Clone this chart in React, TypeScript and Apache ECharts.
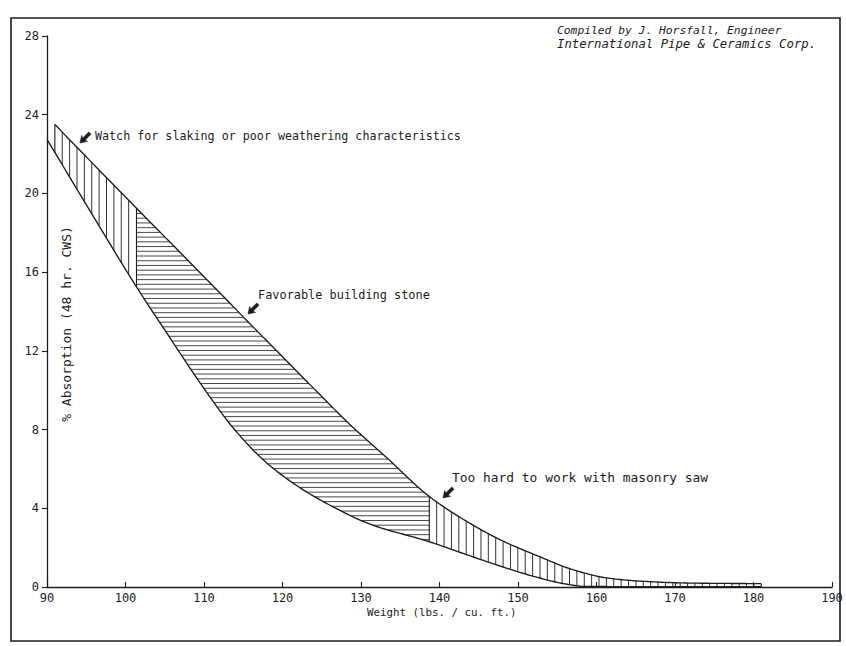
import React, { useEffect, useRef } from "react";
import * as echarts from "echarts";

// Upper boundary of the band (weight lbs/cu.ft, % absorption)
const upperX = [91, 96, 101.4, 105.6, 109.8, 115.8, 120.5, 124.7, 129, 133.2, 138.7, 143.6, 148, 152.7, 157, 161.3, 165.5, 171.8, 181];
const upperY = [23.5, 21.45, 19.25, 17.55, 15.85, 13.4, 11.5, 9.8, 8.1, 6.6, 4.6, 3.3, 2.35, 1.55, 0.88, 0.46, 0.3, 0.2, 0.17];
// Lower boundary of the band
const lowerX = [90, 95.5, 101.4, 105.6, 109.8, 114.1, 118.3, 122.6, 126.8, 131.1, 138.7, 143.4, 147.6, 151.9, 156.1, 158.5, 165, 181];
const lowerY = [22.75, 19.1, 15.25, 12.7, 10.2, 7.9, 6.2, 4.95, 4.0, 3.2, 2.3, 1.65, 1.08, 0.55, 0.15, 0.03, 0.02, 0.02];
// Zone limits along the weight axis: slaking | favorable | too hard
const zoneBreaks = [91, 101.4, 138.7, 181];

const INK = "#1c1c1c";
const FONT = '"DejaVu Sans Mono", monospace';

// monotone cubic (Fritsch-Carlson) curve through the read points
function makeCurve(xs: number[], ys: number[]) {
  const n = xs.length;
  const d: number[] = [];
  for (let i = 0; i < n - 1; i++) d.push((ys[i + 1] - ys[i]) / (xs[i + 1] - xs[i]));
  const m: number[] = new Array(n);
  m[0] = d[0];
  m[n - 1] = d[n - 2];
  for (let i = 1; i < n - 1; i++) {
    if (d[i - 1] * d[i] <= 0) m[i] = 0;
    else {
      const w1 = 2 * (xs[i + 1] - xs[i]) + (xs[i] - xs[i - 1]);
      const w2 = (xs[i + 1] - xs[i]) + 2 * (xs[i] - xs[i - 1]);
      m[i] = (w1 + w2) / (w1 / d[i - 1] + w2 / d[i]);
    }
  }
  return (x: number): number => {
    if (x <= xs[0]) return ys[0];
    if (x >= xs[n - 1]) return ys[n - 1];
    let i = 0;
    while (i < n - 2 && x > xs[i + 1]) i++;
    const h = xs[i + 1] - xs[i];
    const t = (x - xs[i]) / h;
    const t2 = t * t;
    const t3 = t2 * t;
    return (
      (2 * t3 - 3 * t2 + 1) * ys[i] +
      (t3 - 2 * t2 + t) * h * m[i] +
      (-2 * t3 + 3 * t2) * ys[i + 1] +
      (t3 - t2) * h * m[i + 1]
    );
  };
}

// x where a decreasing curve reaches y (bisection)
function solveX(f: (x: number) => number, y: number, a: number, b: number): number {
  if (f(a) <= y) return a;
  if (f(b) >= y) return b;
  let lo = a;
  let hi = b;
  for (let k = 0; k < 40; k++) {
    const mid = (lo + hi) / 2;
    if (f(mid) > y) lo = mid;
    else hi = mid;
  }
  return (lo + hi) / 2;
}

function arrow(tx: number, ty: number) {
  const pts: number[][] = [
    [0, 0], [6.5, -4.2], [5.5, -1.6], [14, -1.6], [14, 1.6], [5.5, 1.6], [6.5, 4.2],
  ];
  const c = Math.SQRT1_2;
  return {
    type: "polygon",
    silent: true,
    shape: { points: pts.map(([a, b]) => [tx + a * c + b * c, ty - a * c + b * c]) },
    style: { fill: INK, stroke: INK, lineWidth: 0.6 },
  };
}

function label(text: string, x: number, y: number, size: number, italic = false) {
  return {
    type: "text",
    silent: true,
    x,
    y,
    style: {
      text,
      fill: INK,
      fontSize: size,
      fontFamily: FONT,
      fontStyle: italic ? "italic" : "normal",
      verticalAlign: "middle",
      align: "left",
    },
  };
}

export default function App() {
  const ref = useRef<HTMLDivElement>(null);
  useEffect(() => {
    if (!ref.current) return;
    const chart = echarts.init(ref.current, undefined, { renderer: "svg" });
    const up = makeCurve(upperX, upperY);
    const lo = makeCurve(lowerX, lowerY);

    const renderBand = (_params: any, api: any) => {
      const children: any[] = [];
      const seg = (x1: number, y1: number, x2: number, y2: number, w = 0.9) => {
        const p1 = api.coord([x1, y1]);
        const p2 = api.coord([x2, y2]);
        children.push({
          type: "line",
          shape: { x1: p1[0], y1: p1[1], x2: p2[0], y2: p2[1] },
          style: { stroke: INK, lineWidth: w },
        });
      };
      const outline = (f: (x: number) => number, x0: number, x1: number) => {
        const pts: number[][] = [];
        const steps = Math.ceil((x1 - x0) * 4);
        for (let k = 0; k <= steps; k++) {
          const x = x0 + ((x1 - x0) * k) / steps;
          pts.push(api.coord([x, f(x)]));
        }
        children.push({
          type: "polyline",
          shape: { points: pts },
          style: { stroke: INK, lineWidth: 1.35, fill: "none" },
        });
      };
      outline(up, upperX[0], upperX[upperX.length - 1]);
      outline(lo, lowerX[0], lowerX[lowerX.length - 1]);
      // zone dividers
      for (let k = 0; k < 4; k++) {
        const x = zoneBreaks[k];
        seg(x, lo(x), x, up(x), 1.1);
      }
      // vertical hatching in the two outer zones
      const vStep = 0.94;
      for (let x = zoneBreaks[0] + vStep; x < zoneBreaks[1] - 0.3; x += vStep) {
        seg(x, lo(x), x, up(x));
      }
      for (let x = zoneBreaks[2] + vStep; x < zoneBreaks[3] - 0.3; x += vStep) {
        seg(x, lo(x), x, up(x));
      }
      // horizontal hatching in the favorable zone
      const yLo = lo(zoneBreaks[2]);
      const yHi = up(zoneBreaks[1]);
      for (let y = yLo + 0.12; y < yHi; y += 0.24) {
        const xl = Math.max(zoneBreaks[1], solveX(lo, y, zoneBreaks[1], zoneBreaks[2]));
        const xr = Math.min(zoneBreaks[2], solveX(up, y, zoneBreaks[1], zoneBreaks[2]));
        if (xr > xl) seg(xl, y, xr, y, 0.8);
      }
      return { type: "group", children };
    };

    chart.setOption({
      animation: false,
      backgroundColor: "#ffffff",
      grid: { left: 47, right: 14, top: 36, bottom: 59, containLabel: false },
      xAxis: {
        type: "value",
        min: 90,
        max: 190,
        interval: 10,
        axisLine: { show: true, lineStyle: { color: INK, width: 1.3 } },
        axisTick: { show: true, inside: true, length: 5, lineStyle: { color: INK, width: 1.1 } },
        axisLabel: { color: INK, fontFamily: FONT, fontSize: 12, margin: 5 },
        splitLine: { show: false },
      },
      yAxis: {
        type: "value",
        min: 0,
        max: 28,
        interval: 4,
        axisLine: { show: true, lineStyle: { color: INK, width: 1.3 } },
        axisTick: { show: true, inside: false, length: 5, lineStyle: { color: INK, width: 1.1 } },
        axisLabel: { color: INK, fontFamily: FONT, fontSize: 12, margin: 8 },
        splitLine: { show: false },
      },
      series: [
        {
          name: "Absorption band",
          type: "custom",
          coordinateSystem: "cartesian2d",
          data: [[zoneBreaks[0], 0]],
          renderItem: renderBand,
          silent: true,
          z: 2,
        },
      ],
      graphic: [
        {
          type: "rect",
          silent: true,
          shape: { x: 11, y: 18, width: 829, height: 623 },
          style: { fill: "none", stroke: INK, lineWidth: 1.6 },
        },
        label("Compiled by J. Horsfall, Engineer", 557, 30.5, 11.3, true),
        label("International Pipe & Ceramics Corp.", 557, 44, 12.3, true),
        label("Watch for slaking or poor weathering characteristics", 95, 136, 11.7),
        arrow(80, 143),
        label("Favorable building stone", 258, 295, 11.9),
        arrow(248, 314),
        label("Too hard to work with masonry saw", 452, 477, 12.9),
        arrow(443, 498),
        {
          type: "text",
          silent: true,
          x: 367,
          y: 612,
          style: {
            text: "Weight (lbs. / cu. ft.)",
            fill: INK,
            fontSize: 10.8,
            fontFamily: FONT,
            verticalAlign: "middle",
            align: "left",
          },
        },
        {
          type: "text",
          silent: true,
          x: 66.5,
          y: 324,
          rotation: Math.PI / 2,
          style: {
            text: "% Absorption (48 hr. CWS)",
            fill: INK,
            fontSize: 13,
            fontFamily: FONT,
            verticalAlign: "middle",
            align: "center",
          },
        },
      ],
    });
    return () => chart.dispose();
  }, []);
  return (
    <div
      ref={ref}
      style={{ position: "fixed", left: 0, top: 0, width: 846, height: 646, background: "#fff" }}
    />
  );
}
